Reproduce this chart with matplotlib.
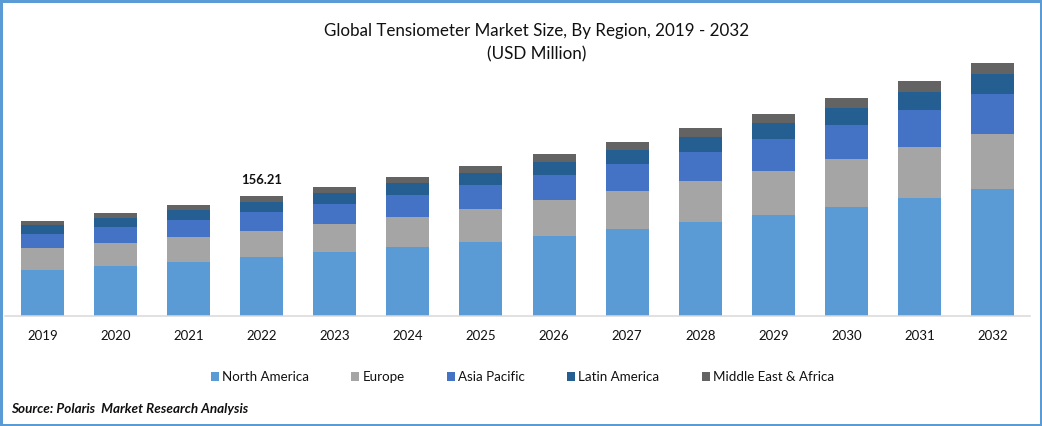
# Global tensiometer market size, stacked bars by region

import matplotlib
matplotlib.use('Agg')
import numpy as np
import matplotlib.pyplot as plt
from matplotlib.patches import Rectangle

years = ['2019', '2020', '2021', '2022', '2023', '2024', '2025',
         '2026', '2027', '2028', '2029', '2030', '2031', '2032']
north_america = [59.9, 65.1, 70.3, 76.9, 83.3, 89.8, 96.3, 104.1, 113.3, 122.4, 131.5, 141.9, 153.6, 165.3]
europe = [28.6, 29.9, 32.5, 33.8, 36.4, 39.1, 43.0, 46.9, 49.5, 53.4, 57.3, 62.5, 66.4, 71.6]
asia_pacific = [18.2, 20.8, 22.1, 24.7, 26.0, 28.6, 31.2, 32.5, 35.1, 37.8, 41.7, 44.3, 48.2, 52.1]
latin_america = [11.7, 11.7, 13.0, 13.0, 14.3, 15.6, 15.6, 16.9, 18.2, 19.5, 20.8, 22.1, 23.4, 26.0]
middle_east = [5.2, 6.5, 6.5, 7.8, 7.8, 7.8, 9.1, 10.4, 10.4, 11.7, 11.7, 13.0, 14.3, 14.3]

series = [('North America', north_america, '#5B9BD5'),
          ('Europe', europe, '#A5A5A5'),
          ('Asia Pacific', asia_pacific, '#4472C4'),
          ('Latin America', latin_america, '#255E91'),
          ('Middle East & Africa', middle_east, '#636363')]

plt.rcParams['font.family'] = ['Lato', 'DejaVu Sans']

W, H = 1042, 426
fig = plt.figure(figsize=(W / 100, H / 100), dpi=100)
ax = fig.add_axes([5 / W, (H - 316) / H, 1025 / W, 286 / H])

x = np.arange(len(years))
bottom = np.zeros(len(years))
for name, values, color in series:
    ax.bar(x, values, 0.588, bottom=bottom, color=color, label=name)
    bottom += np.array(values)

ax.annotate('156.21', (3, bottom[3]), xytext=(0, 7), textcoords='offset points',
            ha='center', va='bottom', fontsize=9.4, fontweight='bold', color='#111111')

ax.set_xlim(-0.513, 13.513)
ax.set_ylim(0, 372.3)
ax.set_xticks(x, years)
ax.tick_params(axis='x', length=0, pad=10, labelsize=9.5, labelcolor='#111111')
ax.set_yticks([])
for side in ['top', 'left', 'right']:
    ax.spines[side].set_visible(False)
ax.spines['bottom'].set_color('#D9D9D9')
ax.spines['bottom'].set_linewidth(1.1)

fig.legend(loc='center', bbox_to_anchor=(522.5 / W, (H - 377) / H), ncol=5, frameon=False,
           fontsize=9.6, handlelength=0.6, handleheight=0.6, handletextpad=0.25,
           columnspacing=3.15, labelcolor='#111111', borderpad=0)

fig.text(537 / W, (H - 31) / H, 'Global Tensiometer Market Size, By Region, 2019 - 2032',
         ha='center', va='center', fontsize=12.25, color='#111111')
fig.text(537 / W, (H - 54) / H, '(USD Million)', ha='center', va='center',
         fontsize=12.25, color='#111111')
fig.text(11 / W, (H - 409) / H, 'Source: Polaris  Market Research Analysis', ha='left', va='center',
         fontsize=9.7, fontweight='bold', fontstyle='italic', color='#111111')

fig.add_artist(Rectangle((0, 0), 1, 1, transform=fig.transFigure, fill=False,
                         edgecolor='#5B9BD5', linewidth=3.6))

fig.savefig('out.png', dpi=100)
